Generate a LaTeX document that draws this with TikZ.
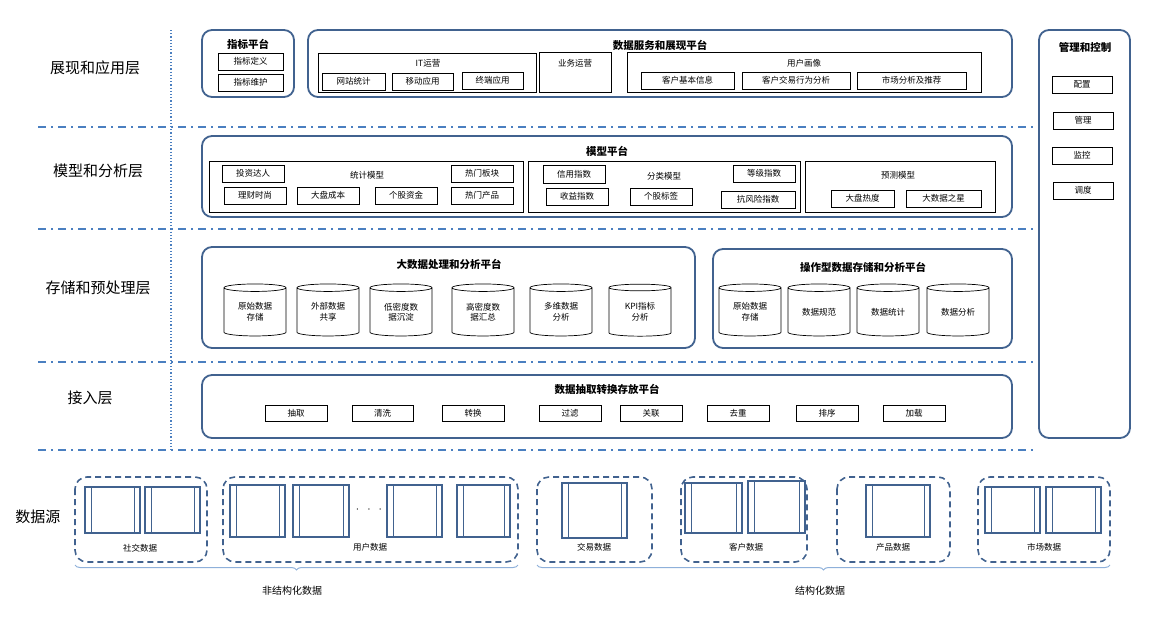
\documentclass[tikz,border=0pt]{standalone}
\usepackage{fontspec}
\setmainfont{Noto Sans CJK SC}
\usetikzlibrary{shapes.geometric,decorations.pathreplacing}
\definecolor{bd}{HTML}{41628F}
\definecolor{sep}{HTML}{4A7FC0}
\definecolor{br}{HTML}{8EB0DA}
\tikzset{
 plat/.style={draw=bd,line width=1.8pt,rounded corners=10pt},
 sbox/.style={draw=black,line width=0.7pt,inner sep=0pt,font=\fontsize{8.5}{9}\selectfont},
 grp/.style={draw=black,line width=0.7pt},
 ttl/.style={font=\fontsize{10.5}{11}\selectfont\bfseries},
 lbl/.style={font=\fontsize{8.5}{9}\selectfont},
 layer/.style={font=\fontsize{15}{16}\selectfont},
 sepl/.style={draw=sep,line width=1.6pt,dash pattern=on 8pt off 5pt on 2pt off 5pt},
 cyl/.style={draw=black,line width=0.7pt,cylinder,shape border rotate=90,aspect=0.22,minimum width=62pt,minimum height=52pt,inner sep=0pt,align=center,font=\fontsize{8.5}{10.5}\selectfont},
 dbox/.style={draw=bd,line width=1.6pt,rounded corners=12pt,dash pattern=on 6pt off 4pt},
 doc/.style={draw=bd,line width=1.6pt},
}
\newcommand\bx[6]{\node[sbox,minimum width={(#4-#2)*1pt},minimum height={(#5-#3)*1pt}] (#1) at ({(#2+#4)/2},{(#3+#5)/2}) {#6};}
\newcommand\docs[4]{\draw[doc] (#1,#2) rectangle (#3,#4); \draw[draw=bd,line width=0.8pt] ({#1+6},#2) -- ({#1+6},#4) ({#3-6},#2) -- ({#3-6},#4);}
\begin{document}
\begin{tikzpicture}[x=1pt,y=-1pt]
\useasboundingbox (0,0) rectangle (1170,625);
% separators
\draw[sep,line width=1.2pt,dotted] (171,30) -- (171,450);
\foreach \y in {127,229,362,450} \draw[sepl] (38,\y) -- (1035,\y);
% layer labels
\node[layer] (l1) at (95,68) {展现和应用层};
\node[layer] (l2) at (98,171) {模型和分析层};
\node[layer] (l3) at (98,288) {存储和预处理层};
\node[layer] (l4) at (90,398) {接入层};
\node[layer] (l5) at (38,517) {数据源};
% presentation
\draw[plat] (202,30) rectangle (294,97);
\node[ttl] (t1) at (248,44) {指标平台};
\bx{a1}{218}{53}{283}{70}{指标定义}
\bx{a2}{218}{74}{283}{91}{指标维护}
\draw[plat] (308,30) rectangle (1012,97);
\node[ttl] (t2) at (660,45) {数据服务和展现平台};
\draw[grp] (318,53) rectangle (536,92); \node[lbl] (it) at (428,63) {IT运营};
\bx{b1}{322}{73}{385}{90}{网站统计}
\bx{b2}{392}{73}{453}{90}{移动应用}
\bx{b3}{462}{72}{523}{89}{终端应用}
\draw[grp] (539,52) rectangle (611,92); \node[lbl] (yw) at (575,63) {业务运营};
\draw[grp] (627,52) rectangle (981,92); \node[lbl] (hx) at (804,63) {用户画像};
\bx{c1}{641}{72}{734}{89}{客户基本信息}
\bx{c2}{742}{72}{850}{89}{客户交易行为分析}
\bx{c3}{857}{72}{966}{89}{市场分析及推荐}
% management
\draw[plat] (1039,30) rectangle (1130,438);
\node[ttl] (t3) at (1085,47) {管理和控制};
\bx{m1}{1052}{76}{1112}{93}{配置}
\bx{m2}{1053}{112}{1113}{129}{管理}
\bx{m3}{1052}{147}{1112}{164}{监控}
\bx{m4}{1053}{182}{1113}{199}{调度}
% model
\draw[plat] (202,136) rectangle (1012,217);
\node[ttl] (t4) at (607,151) {模型平台};
\draw[grp] (209,161) rectangle (523,212); \node[lbl] (tj) at (367,175) {统计模型};
\bx{d1}{222}{165}{284}{182}{投资达人}
\bx{d2}{224}{187}{286}{204}{理财时尚}
\bx{d3}{297}{187}{359}{204}{大盘成本}
\bx{d4}{375}{187}{437}{204}{个股资金}
\bx{d5}{451}{165}{513}{182}{热门板块}
\bx{d6}{451}{187}{513}{204}{热门产品}
\draw[grp] (528,161) rectangle (800,212); \node[lbl] (fl) at (664,176) {分类模型};
\bx{e1}{543}{165}{605}{183}{信用指数}
\bx{e2}{546}{188}{608}{205}{收益指数}
\bx{e3}{630}{188}{692}{205}{个股标签}
\bx{e4}{733}{165}{795}{182}{等级指数}
\bx{e5}{721}{191}{795}{208}{抗风险指数}
\draw[grp] (805,161) rectangle (995,212); \node[lbl] (yc) at (898,175) {预测模型};
\bx{f1}{831}{190}{894}{207}{大盘热度}
\bx{f2}{906}{190}{981}{207}{大数据之星}
% storage
\draw[plat] (202,247) rectangle (695,348);
\node[ttl] (t5) at (449,264) {大数据处理和分析平台};
\node[cyl] (g1) at (255,312) {原始数据\\存储};
\node[cyl] (g2) at (328,312) {外部数据\\共享};
\node[cyl] (g3) at (401,312) {低密度数\\据沉淀};
\node[cyl] (g4) at (483,312) {高密度数\\据汇总};
\node[cyl] (g5) at (561,312) {多维数据\\分析};
\node[cyl] (g6) at (640,312) {KPI指标\\分析};
\draw[plat] (713,249) rectangle (1012,348);
\node[ttl] (t6) at (863,267) {操作型数据存储和分析平台};
\node[cyl] (h1) at (750,312) {原始数据\\存储};
\node[cyl] (h2) at (819,312) {数据规范};
\node[cyl] (h3) at (888,312) {数据统计};
\node[cyl] (h4) at (958,312) {数据分析};
% access
\draw[plat] (202,375) rectangle (1012,438);
\node[ttl] (t7) at (607,389) {数据抽取转换存放平台};
\bx{k1}{265}{405}{327}{421}{抽取}
\bx{k2}{352}{405}{413}{421}{清洗}
\bx{k3}{442}{405}{504}{421}{转换}
\bx{k4}{539}{405}{601}{421}{过滤}
\bx{k5}{620}{405}{682}{421}{关联}
\bx{k6}{707}{405}{769}{421}{去重}
\bx{k7}{796}{405}{858}{421}{排序}
\bx{k8}{883}{405}{945}{421}{加载}
% sources
\draw[dbox] (75,477) rectangle (207,562); \node[lbl] (s1) at (140,548) {社交数据};
\docs{85}{487}{140}{533}\docs{145}{487}{200}{533}
\draw[dbox] (223,477) rectangle (518,562); \node[lbl] (s2) at (370,547) {用户数据};
\docs{230}{485}{285}{537}\docs{293}{485}{349}{537}\docs{387}{485}{442}{537}\docs{457}{485}{510}{537}
\node[font=\large] (dots) at (369,510) {$\cdot\ \ \cdot\ \ \cdot$};
\draw[dbox] (537,477) rectangle (652,562); \node[lbl] (s3) at (594,547) {交易数据};
\docs{562}{483}{627}{538}
\draw[dbox] (681,477) rectangle (807,562); \node[lbl] (s4) at (746,547) {客户数据};
\docs{685}{483}{742}{533}\docs{748}{481}{805}{533}
\draw[dbox] (837,477) rectangle (950,562); \node[lbl] (s5) at (893,547) {产品数据};
\docs{866}{485}{930}{537}
\draw[dbox] (978,477) rectangle (1110,562); \node[lbl] (s6) at (1044,547) {市场数据};
\docs{985}{487}{1040}{533}\docs{1046}{487}{1101}{533}
% braces
\draw[br,line width=1pt,decorate,decoration={brace,amplitude=5pt,mirror}] (75,565) -- (518,565);
\node[font=\fontsize{10}{11}\selectfont] (u1) at (292,591) {非结构化数据};
\draw[br,line width=1pt,decorate,decoration={brace,amplitude=5pt,mirror}] (537,565) -- (1110,565);
\node[font=\fontsize{10}{11}\selectfont] (u2) at (820,591) {结构化数据};
\end{tikzpicture}
\end{document}
